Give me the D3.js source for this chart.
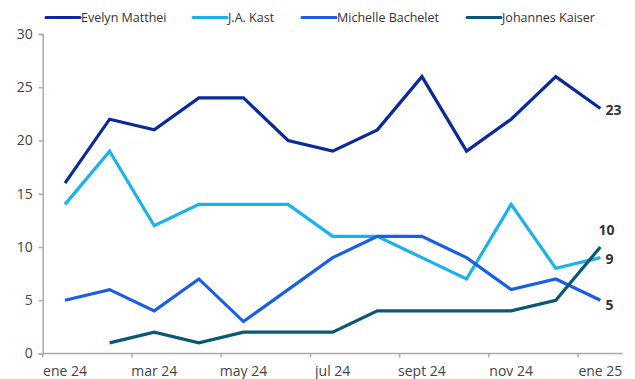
<!DOCTYPE html>
<html><head><meta charset="utf-8">
<script src="https://cdn.jsdelivr.net/npm/d3@7"></script>
<style>body{margin:0;background:#fff;} text{font-family:"Open Sans",sans-serif;}</style>
</head><body><svg id="chart" width="635" height="379"></svg>
<script>
const months = ["ene 24","feb 24","mar 24","abr 24","may 24","jun 24","jul 24","ago 24","sept 24","oct 24","nov 24","dic 24","ene 25"];
const tickLabels = ["ene 24","mar 24","may 24","jul 24","sept 24","nov 24","ene 25"];
const seriesNames = ["Evelyn Matthei","J.A. Kast","Michelle Bachelet","Johannes Kaiser"];
const seriesColors = ["#0a2a9a","#1ab2ea","#1a5ee6","#0a5878"];
const matthei = [16,22,21,24,24,20,19,21,26,19,22,26,23];
const kast = [14,19,12,14,14,14,11,11,9,7,14,8,9];
const bachelet = [5,6,4,7,3,6,9,11,11,9,6,7,5];
const kaiser = [null,1,2,1,2,2,2,4,4,4,4,5,10];
const yTicks = [0,5,10,15,20,25,30];

const allSeries = [matthei,kast,bachelet,kaiser];
const svg = d3.select("#chart");
const x = d3.scaleBand().domain(months).range([42.7,622.7]).padding(0);
const y = d3.scaleLinear().domain([0,30]).range([353.5,34]);
const cx = m => x(m)+x.bandwidth()/2;

// y axis
const yAxis = svg.append("g").attr("transform","translate(42.7,0)")
  .call(d3.axisLeft(y).tickValues(yTicks).tickSize(4).tickPadding(6));
yAxis.select(".domain").attr("stroke","#aaa").attr("stroke-width",1.5);
yAxis.selectAll(".tick line").attr("stroke","#aaa").attr("stroke-width",1.5);
yAxis.selectAll("text").attr("font-size",14).attr("fill","#444").attr("font-family","Open Sans");

// x axis: ticks at band edges every 2 months
const xg = svg.append("g").attr("transform","translate(0,353.5)");
xg.append("line").attr("x1",42.7).attr("x2",622.7).attr("stroke","#aaa").attr("stroke-width",1.5);
const tickMonths = months.filter((m,i)=>i%2===0);
xg.selectAll("line.tk").data(tickMonths).join("line").attr("class","tk")
  .attr("x1",d=>x(d)).attr("x2",d=>x(d)).attr("y1",0).attr("y2",4)
  .attr("stroke","#aaa").attr("stroke-width",1.5);
xg.selectAll("text").data(tickLabels).join("text")
  .attr("x",(d,i)=>cx(tickMonths[i])).attr("y",22)
  .attr("text-anchor","middle").attr("font-size",14).attr("fill","#444").text(d=>d);

// lines
const line = d3.line().defined(d=>d.v!=null).x(d=>cx(d.m)).y(d=>y(d.v));
allSeries.forEach((s,i)=>{
  svg.append("path").datum(s.map((v,j)=>({m:months[j],v})))
    .attr("d",line).attr("fill","none").attr("stroke",seriesColors[i])
    .attr("stroke-width",3.2).attr("stroke-linejoin","miter");
});

// end labels
const endOffsets = [[5,6],[5,6],[5,10],[-2,-12]];
allSeries.forEach((s,i)=>{
  const v = s[s.length-1];
  svg.append("text").attr("x",cx(months[12])+endOffsets[i][0]).attr("y",y(v)+endOffsets[i][1])
    .attr("font-size",14).attr("font-weight","bold").attr("fill","#333").text(v);
});

// legend
const legX = [46,193,302,467];
seriesNames.forEach((n,i)=>{
  const g = svg.append("g").attr("transform",`translate(${legX[i]},17.5)`);
  g.append("line").attr("x1",0).attr("x2",34).attr("stroke",seriesColors[i]).attr("stroke-width",3).attr("stroke-linecap","round");
  g.append("text").attr("x",35).attr("y",4.5).attr("font-size",12.5).attr("fill","#333").text(n);
});
</script></body></html>
